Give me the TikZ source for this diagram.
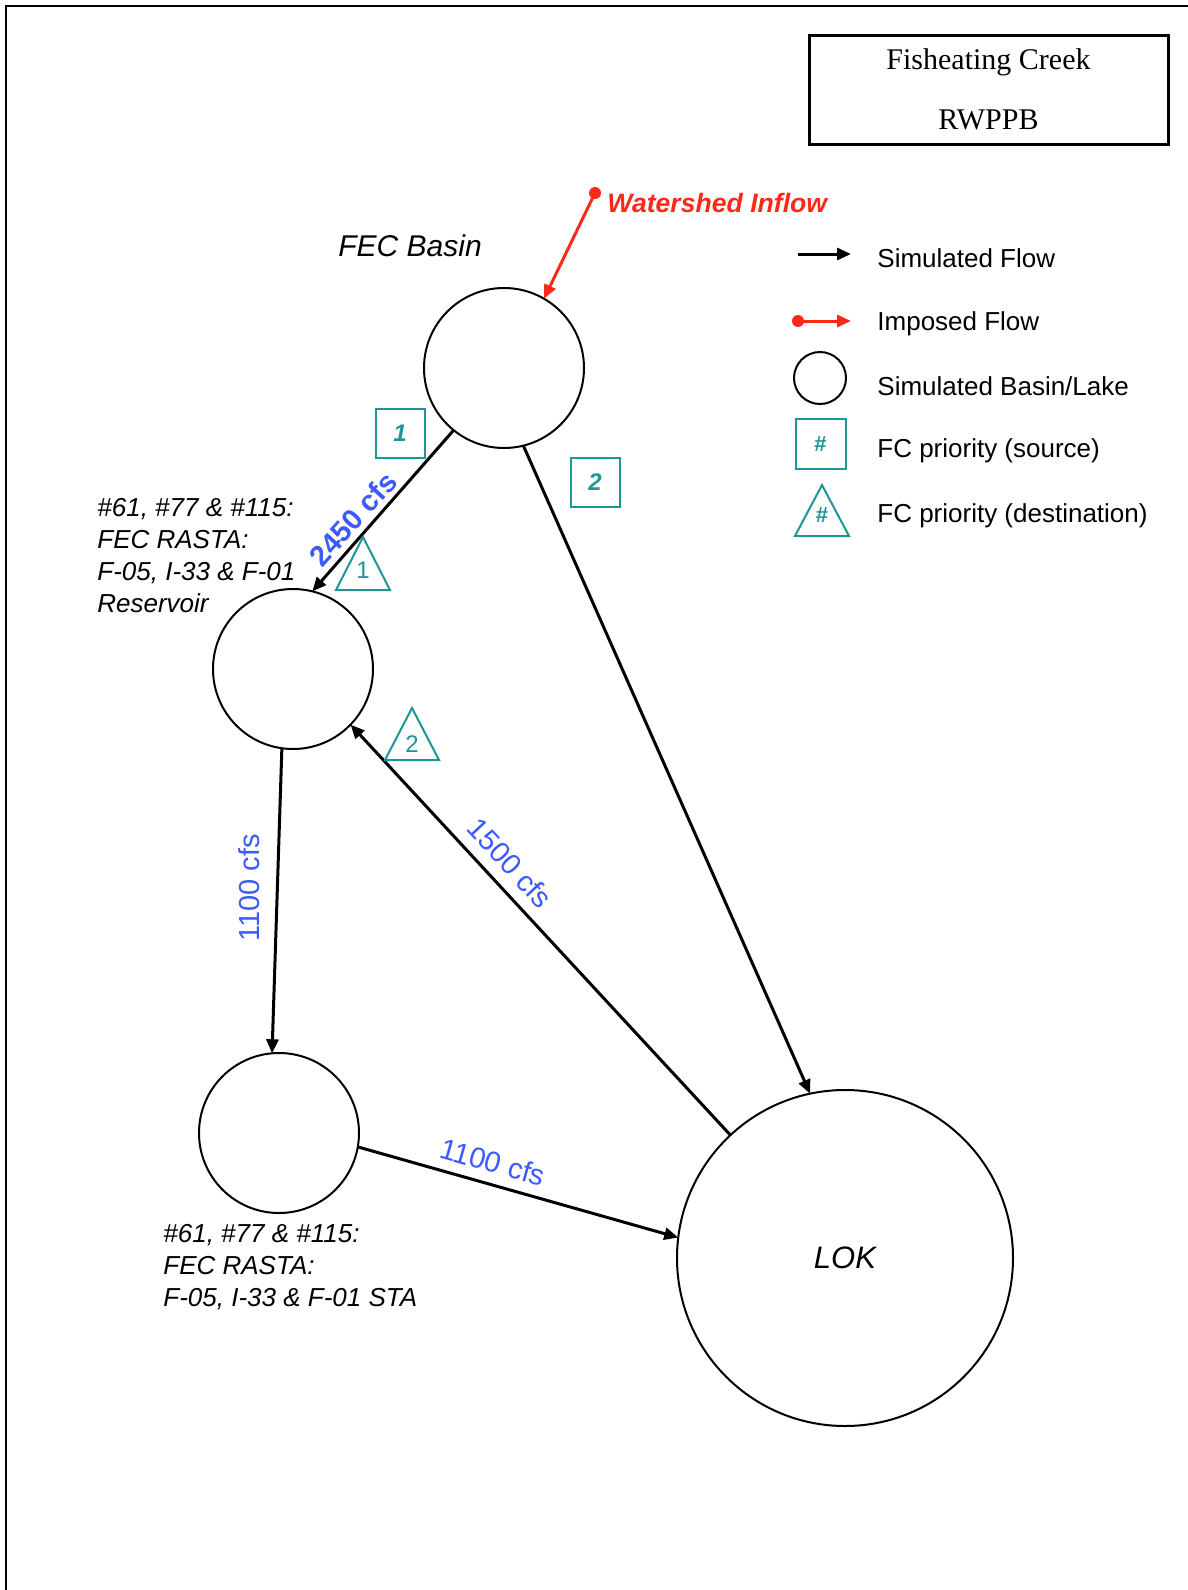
\documentclass[tikz,border=0pt]{standalone}
\usepackage{fontspec}
\setmainfont{Liberation Sans}
\newfontfamily\titlefont{Liberation Serif}
\usetikzlibrary{arrows.meta}
\definecolor{tealc}{RGB}{30,150,150}
\definecolor{bluec}{RGB}{60,90,255}
\definecolor{redc}{RGB}{255,40,25}
\begin{document}
\begin{tikzpicture}[x=0.5pt,y=-0.5pt,
  basin/.style={circle,draw,line width=1pt,inner sep=0pt,outer sep=0pt},
  flow/.style={line width=1.5pt,-{Triangle[length=7pt,width=6pt]}},
  imposed/.style={draw=redc,line width=1.5pt,-{Triangle[length=7pt,width=6pt]}},
  cfs/.style={text=bluec,font=\fontsize{14.5}{17}\selectfont,inner sep=0pt},
  cfsb/.style={text=bluec,font=\fontsize{14.5}{17}\selectfont\bfseries,inner sep=0pt},
  srcbox/.style={draw=tealc,line width=1pt,minimum size=24.5pt,inner sep=0pt,text=tealc,font=\fontsize{12}{14}\selectfont\bfseries\itshape},
  dstnum/.style={text=tealc,font=\fontsize{12}{14}\selectfont,inner sep=0pt},
  dsttri/.style={draw=tealc,line width=1pt},
  lab/.style={font=\fontsize{13}{16}\selectfont\itshape,align=left,inner sep=0pt,anchor=north west},
  leg/.style={font=\fontsize{13}{16}\selectfont,anchor=base west,inner sep=0pt},
]
\useasboundingbox (0,0) rectangle (1188,1590);
\fill[white] (0,0) rectangle (1188,1590);
% page frame
\draw[line width=1pt] (6,1590) -- (6,6) -- (1188,6);

% title
\node[draw,line width=1.5pt,minimum width=179.5pt,minimum height=54.5pt,inner sep=0pt,align=center,
  font=\titlefont\fontsize{15}{30}\selectfont] (title) at (988.5,89.5) {Fisheating Creek\\RWPPB};

% basins
\node[basin,minimum size=80pt] (fec) at (504,368) {};
\node[basin,minimum size=80pt] (res) at (293,669) {};
\node[basin,minimum size=80pt] (sta) at (279,1133) {};
\node[basin,minimum size=168pt,font=\fontsize{15.5}{18}\selectfont\itshape] (lok) at (845,1258) {LOK};

\node[font=\fontsize{15}{18}\selectfont\itshape,anchor=base west,inner sep=0pt] (fecl) at (338,256) {FEC Basin};
\node[lab] (resl) at (97,498) {\#61, \#77 \& \#115:\\FEC RASTA:\\F-05, I-33 \& F-01\\Reservoir};
\node[lab] (stal) at (163,1224) {\#61, \#77 \& \#115:\\FEC RASTA:\\F-05, I-33 \& F-01 STA};

% watershed inflow
\coordinate (ws) at (595,193);
\fill[redc] (ws) circle (3pt);
\draw[imposed] (ws) -- (fec.60);
\node[font=\fontsize{13.3}{16}\selectfont\bfseries\itshape,text=redc,anchor=base west,inner sep=0pt] (wsl) at (607,212) {Watershed Inflow};

% flows
\draw[flow] (fec.-129) -- (res.76);
\draw[flow] (fec.-76) -- (lok.102);
\draw[flow] (lok.133) -- (res.-44);
\draw[flow] (res.-98) -- (sta.95);
\draw[flow] (sta.-10) -- (lok.173);

% flow labels
\node[cfsb,rotate=48] (c1) at (353,519) {2450 cfs};
\node[cfs,rotate=-47] (c2) at (510,863) {1500 cfs};
\node[cfs,rotate=90] (c3) at (249,888) {1100 cfs};
\node[cfs,rotate=-16] (c4) at (493,1162) {1100 cfs};

% priorities
\node[srcbox] (p1) at (400,433.5) {1};
\node[srcbox] (p2) at (595,482) {2};
\node[dstnum] (d1) at (363,570) {1};
\draw[dsttri] ([shift={(0,-33)}]d1.center) -- ([shift={(27,20)}]d1.center) -- ([shift={(-27,20)}]d1.center) -- cycle;
\node[dstnum] (d2) at (412,744) {2};
\draw[dsttri] ([shift={(0,-36)}]d2.center) -- ([shift={(27,16)}]d2.center) -- ([shift={(-27,16)}]d2.center) -- cycle;

% legend
\coordinate (l1a) at (798,254); \coordinate (l1b) at (851,254);
\draw[flow] (l1a) -- (l1b);
\node[leg] (lt1) at (877,267) {Simulated Flow};
\coordinate (l2a) at (798,321); \coordinate (l2b) at (851,321);
\fill[redc] (l2a) circle (3pt);
\draw[imposed] (l2a) -- (l2b);
\node[leg] (lt2) at (877,330) {Imposed Flow};
\node[basin,minimum size=26pt] (lc) at (820,378) {};
\node[leg] (lt3) at (877,395) {Simulated Basin/Lake};
\node[srcbox,minimum size=25pt,font=\fontsize{11}{13}\selectfont\bfseries] (ls) at (820.5,444) {\#};
\node[leg] (lt4) at (877,457) {FC priority (source)};
\node[dstnum,font=\fontsize{11}{13}\selectfont\bfseries] (lsym) at (822,515) {\#};
\draw[dsttri] ([shift={(0,-30)}]lsym.center) -- ([shift={(27,21)}]lsym.center) -- ([shift={(-27,21)}]lsym.center) -- cycle;
\node[leg] (lt5) at (877,522) {FC priority (destination)};
\end{tikzpicture}
\end{document}
